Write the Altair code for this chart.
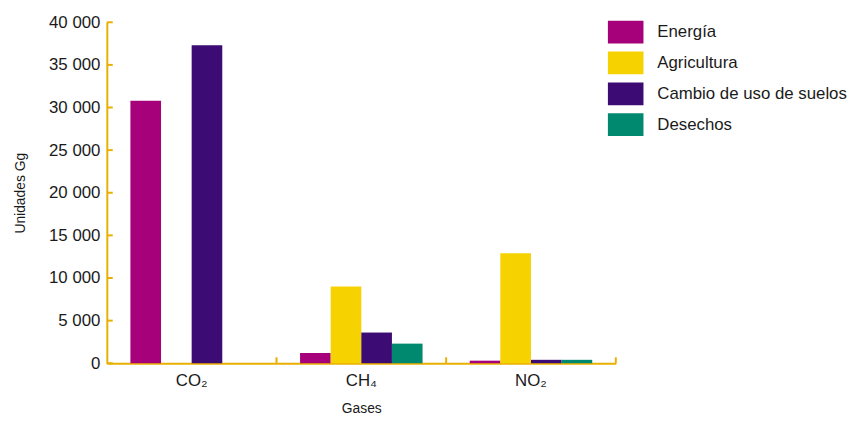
import altair as alt
import pandas as pd

gases = ["CO₂", "CH₄", "NO₂"]
sectores = ["Energía", "Agricultura", "Cambio de uso de suelos", "Desechos"]
energia = [30800, 1200, 300]
agricultura = [0, 9000, 12900]
cambio_uso = [37300, 3600, 400]
desechos = [0, 2300, 400]
y_ticks = [0, 5000, 10000, 15000, 20000, 25000, 30000, 35000, 40000]
colores = ["#A6007B", "#F5D200", "#3D0B74", "#00896F"]
dorado = "#E8B000"
texto = "#1a1a1a"

rows = []
for serie, vals in zip(sectores, [energia, agricultura, cambio_uso, desechos]):
    for g, v in zip(gases, vals):
        rows.append({"Gas": g, "Sector": serie, "Valor": v})
df = pd.DataFrame(rows)

W, H = 515, 345
xscale = alt.Scale(domain=gases, paddingInner=0, paddingOuter=0)
yscale = alt.Scale(domain=[0, 40000], nice=False)

xaxis = alt.Axis(ticks=False, labelAngle=0, domainColor=dorado, domainWidth=2,
                 labelPadding=10, labelFontSize=17, titleFontSize=14,
                 titleFontWeight="normal", titlePadding=13,
                 labelColor=texto, titleColor=texto)
yaxis = alt.Axis(values=y_ticks, ticks=False, grid=False, domainColor=dorado,
                 domainWidth=2, labelPadding=7, labelFontSize=17,
                 labelExpr="replace(format(datum.value, ','), ',', ' ')",
                 titleFontSize=14, titleFontWeight="normal", titlePadding=21,
                 labelColor=texto, titleColor=texto)

bars = alt.Chart(df).mark_bar().encode(
    x=alt.X("Gas:N", scale=xscale, sort=gases, title="Gases", axis=xaxis),
    xOffset=alt.XOffset("Sector:N", sort=sectores,
                        scale=alt.Scale(domain=sectores, paddingInner=0, paddingOuter=0.77)),
    y=alt.Y("Valor:Q", scale=yscale, title="Unidades Gg", axis=yaxis),
    color=alt.Color("Sector:N", scale=alt.Scale(domain=sectores, range=colores),
                    legend=alt.Legend(title=None, orient="none", legendX=507, legendY=-8,
                                      symbolType="M-1,-0.64L1,-0.64L1,0.64L-1,0.64Z",
                                      symbolSize=1296, symbolStrokeWidth=0,
                                      symbolOpacity=1, labelLimit=400,
                                      labelFontSize=17, labelOffset=14, rowPadding=1.2,
                                      labelColor=texto)),
)

xt = pd.DataFrame({"Gas": gases})
xticks = alt.Chart(xt).mark_rule(color=dorado, strokeWidth=2).encode(
    x=alt.X("Gas:N", bandPosition=1, scale=xscale, sort=gases, title="Gases", axis=xaxis),
    y=alt.datum(0),
    y2=alt.datum(700),
)

yt = pd.DataFrame({"Valor": y_ticks})
yticks = alt.Chart(yt).mark_rule(color=dorado, strokeWidth=2).encode(
    y=alt.Y("Valor:Q", scale=yscale, title="Unidades Gg", axis=yaxis),
    x=alt.value(0),
    x2=alt.value(6),
)

chart = alt.layer(bars, xticks, yticks).properties(
    width=W, height=H,
    padding={"left": 6, "top": 3, "right": 5, "bottom": 2},
).configure(font="Liberation Sans").configure_view(stroke=None)

chart.save("out.html", embed_options={"renderer": "svg", "actions": False})
